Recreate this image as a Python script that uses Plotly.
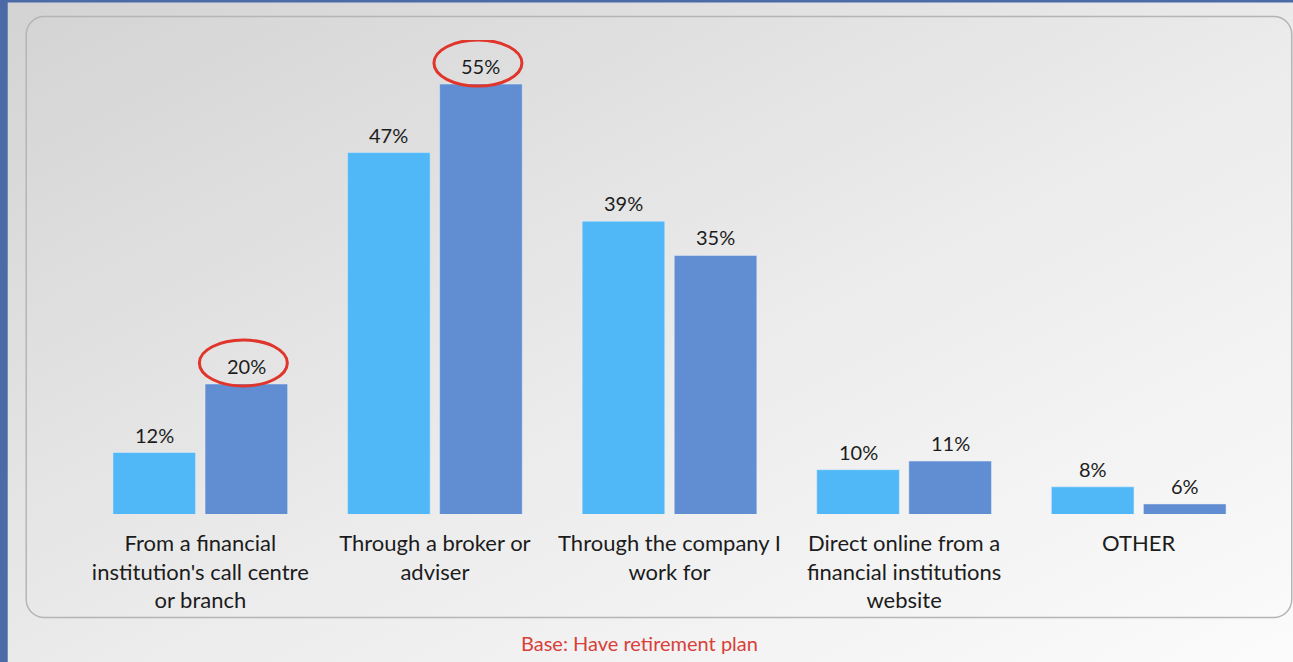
import plotly.graph_objects as go
import urllib.parse

categories = [
    "From a financial<br>institution's call centre<br>or branch",
    "Through a broker or<br>adviser",
    "Through the company I<br>work for",
    "Direct online from a<br>financial institutions<br>website",
    "OTHER",
]
series_a = [12, 47, 39, 10, 8]
series_b = [20, 55, 35, 11, 6]
highlight_b = [True, True, False, False, False]
caption = "Base: Have retirement plan"

W, H = 1293, 662
ml, mr, mt, mb = 83.25, 37.25, 40, 148
plotw, ploth = W - ml - mr, H - mt - mb
ymin = 4.83
ymax = ymin + ploth / 8.57

col_a = "#51B8F8"
col_b = "#618DD3"
bargap = 0.215
bgg = 0.103
FONT = "Lato, 'Open Sans', sans-serif"

svg = (
    "<svg xmlns='http://www.w3.org/2000/svg' width='1293' height='662'>"
    "<defs><linearGradient id='g' x1='0' y1='0' x2='1' y2='1'>"
    "<stop offset='0' stop-color='#d3d3d3'/><stop offset='0.55' stop-color='#ececec'/>"
    "<stop offset='1' stop-color='#fbfbfb'/></linearGradient></defs>"
    "<rect width='1293' height='662' fill='url(#g)'/>"
    "<rect x='26.5' y='16.5' width='1265' height='601' rx='18' ry='18' fill='none' stroke='#b5b5b5' stroke-width='1.5'/>"
    "<rect x='0' y='0' width='8' height='662' fill='#4a6ba5'/>"
    "<rect x='0' y='0' width='1293' height='2.5' fill='#4a6ba5'/>"
    "</svg>"
)
src = "data:image/svg+xml;charset=utf-8," + urllib.parse.quote(svg)

fig = go.Figure()
fig.add_trace(go.Bar(x=categories, y=series_a, marker_color=col_a, name="A", hoverinfo="skip"))
fig.add_trace(go.Bar(x=categories, y=series_b, marker_color=col_b, name="B", hoverinfo="skip"))

slot = (1 - bargap) / 2
offs = [-slot / 2, slot / 2]
font_lbl = dict(family=FONT, size=20, color="#1c1c1c")
for s, vals in enumerate([series_a, series_b]):
    for i, v in enumerate(vals):
        fig.add_annotation(x=i + offs[s], y=v, xref="x", yref="y", text=f"{v}%",
                           showarrow=False, yanchor="bottom", yshift=4, font=font_lbl)

for i, (v, h) in enumerate(zip(series_b, highlight_b)):
    if h:
        fig.add_shape(type="circle", xref="x", yref="y", xsizemode="pixel", ysizemode="pixel",
                      xanchor=i + offs[1], yanchor=v, x0=-47, x1=41, y0=-2, y1=44,
                      line=dict(color="#E0352B", width=3), fillcolor="rgba(0,0,0,0)")

fig.add_annotation(x=(W / 2 - 7 - ml) / plotw, y=-(643 - (mt + ploth)) / ploth, xref="paper", yref="paper",
                   text=caption, showarrow=False, yanchor="middle",
                   font=dict(family=FONT, size=20, color="#D8403A"))

fig.add_layout_image(source=src, xref="paper", yref="paper", x=-ml / plotw, y=1 + mt / ploth,
                     sizex=W / plotw, sizey=H / ploth, sizing="stretch", xanchor="left",
                     yanchor="top", layer="below")

fig.update_layout(
    width=W, height=H, margin=dict(l=ml, r=mr, t=mt, b=mb, pad=0),
    barmode="group", bargap=bargap, bargroupgap=bgg, showlegend=False,
    paper_bgcolor="#eeeeee", plot_bgcolor="rgba(0,0,0,0)",
    xaxis=dict(showline=False, showgrid=False, zeroline=False, ticks="",
               tickfont=dict(family=FONT, size=22, color="#1c1c1c"),
               ticklabelstandoff=14),
    yaxis=dict(range=[ymin, ymax], visible=False, showgrid=False, zeroline=False),
)

fig.write_html("out.html", config={"displayModeBar": False},
               post_script="document.body.style.margin='0';document.body.style.overflow='hidden';")
